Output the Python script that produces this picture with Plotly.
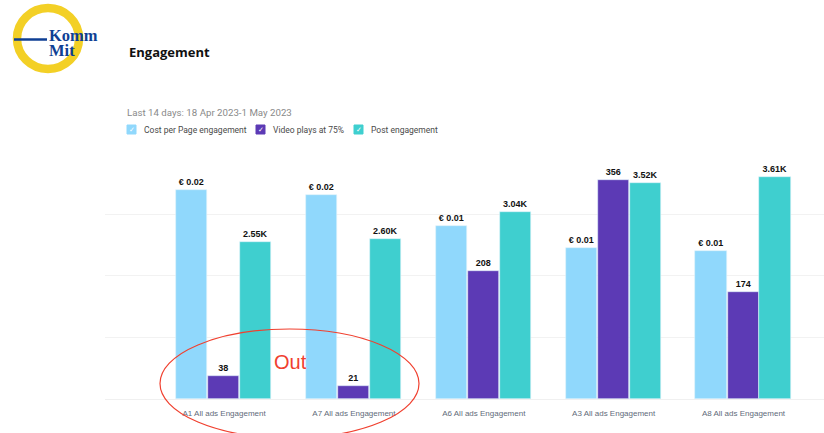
"""Engagement chart: three metrics per ad, each on its own hidden scale."""

import plotly.graph_objects as go

W, H = 824, 433

ADS = ["A1 All ads Engagement", "A7 All ads Engagement", "A6 All ads Engagement",
       "A3 All ads Engagement", "A8 All ads Engagement"]
COST_PER_ENGAGEMENT = [0.018, 0.0176, 0.0149, 0.013, 0.0128]
VIDEO_PLAYS = [38, 21, 208, 356, 174]
POST_ENGAGEMENT = [2550, 2600, 3040, 3520, 3610]

SERIES_NAMES = ["Cost per Page engagement", "Video plays at 75%", "Post engagement"]
COLORS = ["#90d8fc", "#5c3ab5", "#3fcfcf"]
LEGEND_X = [127, 256, 354]


def px_x(x):
    return x / W


def px_y(y):
    return 1 - y / H


def add_text(fig, x, y, text, size, color, family="Roboto", anchor="left"):
    fig.add_annotation(
        x=px_x(x), y=px_y(y), xref="paper", yref="paper", text=text, showarrow=False,
        xanchor=anchor, yanchor="middle", borderpad=0,
        font=dict(size=size, color=color, family=family),
    )


def add_bars(fig, values, labels, idx, offset, axis):
    fig.add_trace(go.Bar(
        x=list(range(len(ADS))), y=values, name=SERIES_NAMES[idx], yaxis=axis,
        width=0.24, offset=offset, marker=dict(color=COLORS[idx], line=dict(color="#dff3fc", width=0.6)),
        text=[f"<b>{t}</b>" for t in labels], textposition="outside", cliponaxis=False,
        textfont=dict(size=9, color="#111111", family="Liberation Sans"),
        showlegend=False,
    ))


fig = go.Figure()
add_bars(fig, COST_PER_ENGAGEMENT, [f"€ {v:.2f}" for v in COST_PER_ENGAGEMENT], 0, -0.37, "y")
add_bars(fig, VIDEO_PLAYS, [str(v) for v in VIDEO_PLAYS], 1, -0.123, "y2")
add_bars(fig, POST_ENGAGEMENT, [f"{v / 1000:.2f}K" for v in POST_ENGAGEMENT], 2, 0.123, "y3")

plot_domain = [px_y(399), px_y(152)]
hidden = dict(domain=plot_domain, showticklabels=False, ticks="", zeroline=False, showgrid=False)

fig.update_layout(
    width=W, height=H, margin=dict(l=0, r=0, t=0, b=0),
    paper_bgcolor="white", plot_bgcolor="white", barmode="overlay", bargap=0,
    xaxis=dict(
        domain=[px_x(105), 1], range=[-0.917, 4.62], tickvals=list(range(len(ADS))), ticktext=ADS,
        tickfont=dict(size=8, color="#5f6b7a", family="Liberation Sans"), ticklabelstandoff=6,
        ticks="", showgrid=False, zeroline=False, showline=True, linecolor="#f0f0f0", linewidth=1,
    ),
    yaxis=dict(hidden, range=[0, 0.0213]),
    yaxis2=dict(domain=plot_domain, range=[0, 401.6], dtick=100, overlaying="y", showticklabels=False,
                ticks="", zeroline=False, showgrid=True, gridcolor="#f2f2f2", gridwidth=1),
    yaxis3=dict(hidden, range=[0, 4016], overlaying="y"),
)

# logo
fig.add_shape(type="circle", xref="paper", yref="paper", x0=px_x(17), x1=px_x(79),
              y0=px_y(8), y1=px_y(69), line=dict(color="#f3d026", width=8.5))
fig.add_shape(type="line", xref="paper", yref="paper", x0=px_x(14), x1=px_x(47),
              y0=px_y(39.5), y1=px_y(39.5), line=dict(color="#0f3f94", width=2.5))
add_text(fig, 48, 36, "<b>Komm</b>", 16.5, "#0f3f94", "Liberation Serif")
add_text(fig, 48, 50, "<b>Mit</b>", 16.5, "#0f3f94", "Liberation Serif")

add_text(fig, 128, 52, "<b>Engagement</b>", 13, "#111111", "Open Sans")
add_text(fig, 126, 112, "Last 14 days: 18 Apr 2023-1 May 2023", 9.7, "#8a8a8a")

# legend with checkbox swatches
for x, name, color in zip(LEGEND_X, SERIES_NAMES, COLORS):
    fig.add_shape(type="rect", xref="paper", yref="paper", x0=px_x(x), x1=px_x(x + 9),
                  y0=px_y(125), y1=px_y(134), fillcolor=color, line=dict(color=color, width=1))
    add_text(fig, x + 4.5, 129.5, "✓", 7, "white", "DejaVu Sans", anchor="center")
    add_text(fig, x + 16, 129.5, name, 8.5, "#4a4a4a")

# hand-drawn callout
fig.add_shape(type="circle", xref="paper", yref="paper", x0=px_x(160), x1=px_x(419),
              y0=px_y(329), y1=px_y(438), line=dict(color="#f0402f", width=1.2))
add_text(fig, 273, 362, "Out", 20, "#f0402f", "Liberation Sans")

fig.write_html("out.html", config=dict(displayModeBar=False),
               post_script="document.body.style.margin='0';")
